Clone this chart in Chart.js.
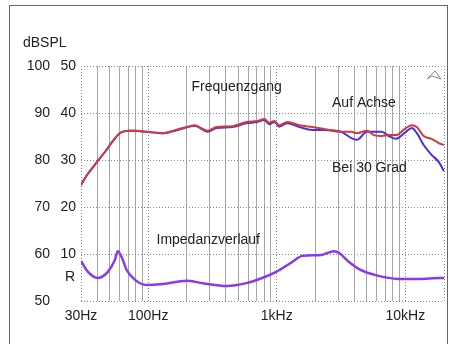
<!DOCTYPE html>
<html lang="de">
<head>
    <meta charset="UTF-8">
    <title>Frequenzgang</title>
    <style>
        body {
            margin: 0;
            padding: 0;
            background: #ffffff;
            overflow: hidden;
        }
        #wrap {
            width: 453px;
            height: 344px;
            position: relative;
        }
    </style>
</head>
<body>
    <div id="wrap"><canvas id="chart" width="453" height="344"></canvas></div>

    <script src="https://cdn.jsdelivr.net/npm/chart.js"></script>
    <script>
        // frequency response, on axis and at 30 degrees (dBSPL)
        const freqSpl = [30, 33.4, 40, 46, 53, 60, 72, 80, 97, 130, 155, 210, 230, 250, 290, 340, 450, 580, 705, 800, 875, 957, 1046, 1208, 1500, 1890, 2340, 3160, 3780, 4200, 5030, 5700, 6560, 7450, 8450, 10100, 11250, 12300, 13900, 16000, 18200, 20000];
        const splAxis = [74.7, 76.8, 79.6, 81.7, 84.0, 85.7, 86.2, 86.2, 86.0, 85.7, 86.2, 87.2, 87.4, 87.0, 86.2, 87.0, 87.2, 88.1, 88.3, 88.7, 87.9, 88.3, 87.4, 88.1, 87.4, 87.0, 86.6, 86.0, 86.0, 85.7, 86.2, 85.3, 85.1, 85.3, 85.3, 86.8, 87.4, 87.0, 85.1, 84.5, 83.6, 83.2];
        const spl30 = [74.7, 76.8, 79.6, 81.7, 84.0, 85.7, 86.2, 86.2, 86.0, 85.7, 86.1, 87.1, 87.3, 86.9, 86.0, 86.8, 87.0, 87.8, 88.1, 88.5, 87.6, 88.1, 87.1, 87.8, 87.0, 86.4, 86.4, 86.0, 84.7, 84.3, 86.0, 86.0, 86.0, 85.1, 84.5, 86.0, 86.8, 85.7, 83.2, 81.1, 79.6, 77.6];

        // impedance (Ohm), right column of the y axis
        const freqImp = [30, 34, 40.5, 48.5, 55, 58, 62, 68, 79, 97, 130, 199, 265, 407, 580, 770, 990, 1320, 1580, 2220, 2470, 2800, 3060, 3650, 4370, 5900, 8900, 12700, 18800, 20000];
        const impedance = [8.5, 6.2, 4.9, 6.2, 8.7, 10.6, 9.4, 6.6, 4.5, 3.4, 3.6, 4.3, 3.8, 3.2, 3.8, 4.9, 6.2, 8.3, 9.6, 9.8, 10.2, 10.6, 10.2, 8.3, 6.8, 5.5, 4.7, 4.7, 4.9, 4.9];

        // tick labels
        const splTicks = [100, 90, 80, 70, 60, 50];
        const ohmTicks = ['50', '40', '30', '20', '10', ''];
        const decadeTicks = [30, 100, 1000, 10000, 20000];
        const decadeLabels = ['30Hz', '100Hz', '1kHz', '10kHz', ''];
        const minorTicks = [40, 50, 60, 70, 80, 90, 200, 300, 400, 500, 600, 700, 800, 900, 2000, 3000, 4000, 5000, 6000, 7000, 8000, 9000];

        const FONT = '14px "Liberation Sans", Arial, sans-serif';

        function toPoints(xs, ys) {
            return xs.map((x, i) => ({ x: x, y: ys[i] }));
        }

        // text labels, frame and y axis columns
        const extras = {
            id: 'extras',
            beforeDraw(chart) {
                const ctx = chart.ctx;
                ctx.save();
                ctx.fillStyle = '#ffffff';
                ctx.fillRect(0, 0, chart.width, chart.height);
                ctx.strokeStyle = '#666';
                ctx.lineWidth = 1;
                ctx.strokeRect(9.5, 5.5, 438, 360);
                ctx.restore();
            },
            afterDraw(chart) {
                const ctx = chart.ctx;
                const x = chart.scales.x;
                const y = chart.scales.y;
                const y2 = chart.scales.y2;
                ctx.save();
                ctx.font = FONT;
                ctx.fillStyle = '#222';
                ctx.textBaseline = 'middle';

                ctx.textAlign = 'left';
                ctx.fillText('dBSPL', 23, 43);

                ctx.textAlign = 'right';
                splTicks.forEach((v, i) => {
                    const py = y.getPixelForValue(v);
                    ctx.fillText(String(v), 50, py);
                    if (ohmTicks[i]) ctx.fillText(ohmTicks[i], 76, py);
                });
                ctx.fillText('R', 75, y2.getPixelForValue(5));

                ctx.textAlign = 'left';
                ctx.fillText('Frequenzgang', x.getPixelForValue(217), y.getPixelForValue(95.5));
                ctx.fillText('Auf Achse', x.getPixelForValue(2690), y.getPixelForValue(92.1));
                ctx.fillText('Bei 30 Grad', x.getPixelForValue(2690), y.getPixelForValue(78.3));
                ctx.fillText('Impedanzverlauf', x.getPixelForValue(116), y.getPixelForValue(63));

                // small tool icon in the corner
                const a = chart.chartArea;
                ctx.strokeStyle = '#888';
                ctx.lineWidth = 1;
                ctx.beginPath();
                ctx.moveTo(a.right - 17, a.top + 13);
                ctx.lineTo(a.right - 9, a.top + 5);
                ctx.lineTo(a.right - 3, a.top + 13);
                ctx.lineTo(a.right - 12, a.top + 10);
                ctx.closePath();
                ctx.stroke();
                ctx.restore();
            }
        };

        new Chart(document.getElementById('chart'), {
            type: 'line',
            data: {
                datasets: [{
                    label: 'Auf Achse',
                    data: toPoints(freqSpl, splAxis),
                    borderColor: '#d23a3a',
                    borderWidth: 2,
                    pointRadius: 0,
                    cubicInterpolationMode: 'monotone',
                    xAxisID: 'x',
                    yAxisID: 'y'
                }, {
                    label: 'Bei 30 Grad',
                    data: toPoints(freqSpl, spl30),
                    borderColor: '#4a2ee6',
                    borderWidth: 2,
                    pointRadius: 0,
                    cubicInterpolationMode: 'monotone',
                    xAxisID: 'x',
                    yAxisID: 'y'
                }, {
                    label: 'Impedanzverlauf',
                    data: toPoints(freqImp, impedance),
                    borderColor: '#8a3ae6',
                    borderWidth: 2.5,
                    pointRadius: 0,
                    cubicInterpolationMode: 'monotone',
                    xAxisID: 'x',
                    yAxisID: 'y2'
                }]
            },
            options: {
                responsive: false,
                animation: false,
                layout: { padding: { left: 0, top: 66, right: 9, bottom: 0 } },
                plugins: {
                    legend: { display: false },
                    tooltip: { enabled: false }
                },
                scales: {
                    x: {
                        type: 'logarithmic',
                        position: 'bottom',
                        min: 30,
                        max: 20000,
                        afterBuildTicks: s => { s.ticks = decadeTicks.map(v => ({ value: v })); },
                        afterFit: s => { s.height = 43; },
                        ticks: {
                            autoSkip: false,
                            maxRotation: 0,
                            padding: 7,
                            color: '#222',
                            font: { family: '"Liberation Sans", Arial, sans-serif', size: 14 },
                            callback: (v, i) => decadeLabels[i]
                        },
                        grid: { color: '#888', drawTicks: false },
                        border: { display: false, dash: [1, 2] }
                    },
                    xMinor: {
                        type: 'logarithmic',
                        position: 'bottom',
                        min: 30,
                        max: 20000,
                        afterBuildTicks: s => { s.ticks = minorTicks.map(v => ({ value: v })); },
                        afterFit: s => { s.height = 0; },
                        ticks: { display: false },
                        grid: { color: '#a6a6a6', drawTicks: false },
                        border: { display: false }
                    },
                    y: {
                        min: 50,
                        max: 100,
                        afterFit: s => { s.width = 81; },
                        ticks: { stepSize: 10, display: false },
                        grid: { color: '#888', drawTicks: false },
                        border: { display: false, dash: [1, 2] }
                    },
                    y2: {
                        min: 0,
                        max: 50,
                        display: false
                    }
                }
            },
            plugins: [extras]
        });
    </script>
</body>
</html>
